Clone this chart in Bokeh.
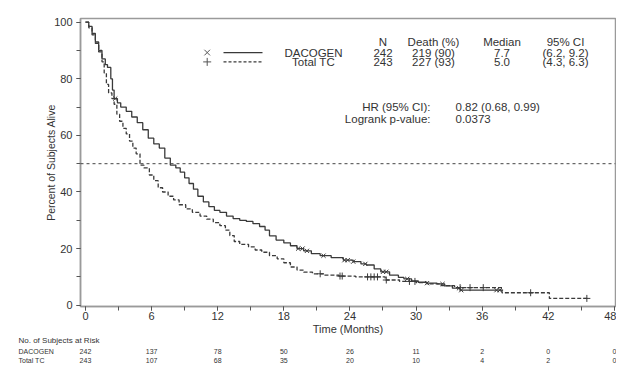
import numpy as np
from bokeh.plotting import figure
from bokeh.models import Range1d, Span, SingleIntervalTicker
from bokeh.layouts import column
from bokeh.embed import file_html
from bokeh.resources import INLINE
from bokeh.core.properties import value

FONT = "Liberation Sans"

# ---------------- data ----------------
dac_steps = [(0, 100), (0.3, 98.5), (0.6, 96), (0.9, 93), (1.2, 90), (1.5, 87), (1.8, 85),
             (2.0, 84), (2.3, 80), (2.45, 76), (2.6, 73), (2.9, 71.5), (3.2, 70), (3.7, 68.5),
             (4.2, 66.5), (4.7, 64.5), (5.2, 62), (5.7, 59), (6.2, 57), (6.7, 55.5), (7.2, 52),
             (7.7, 49.5), (8.2, 48.5), (8.6, 47), (9.0, 45), (9.4, 43), (9.8, 41), (10.2, 38.5),
             (10.7, 36.5), (11.2, 34.8), (11.7, 33.5), (12.2, 32.8), (12.8, 31.5), (13.4, 30.6),
             (14.0, 30.0), (14.6, 29.6), (15.2, 28.8), (15.8, 27.8), (16.3, 26.5), (16.7, 24.5),
             (17.3, 23), (18.0, 22), (18.6, 21), (19.2, 20), (19.8, 19.2), (20.5, 18.2),
             (21.3, 17.5), (22.3, 16.8), (23.4, 15.9), (24.3, 15.4), (25.0, 14.6), (25.5, 14.2),
             (26.2, 12.8), (26.8, 11.8), (27.6, 10.6), (28.4, 9.8), (28.9, 9.3), (29.6, 8.6),
             (30.2, 8.1), (31.0, 7.8), (31.9, 7.5), (32.6, 6.8), (33.3, 6.0), (34.0, 5.3),
             (37.9, 5.3)]
tc_steps = [(0, 100), (0.3, 98), (0.6, 95.5), (0.9, 92.5), (1.2, 89.5), (1.5, 86), (1.7, 82),
            (1.9, 78), (2.1, 75), (2.4, 73), (2.6, 71), (2.85, 67.5), (3.1, 65), (3.4, 62.5),
            (3.7, 60.5), (4.0, 58), (4.3, 55.5), (4.6, 53.5), (4.95, 49.5), (5.3, 48.5),
            (5.8, 46), (6.2, 44), (6.6, 41.5), (7.0, 40), (7.5, 38.5), (8.0, 37.2), (8.5, 35.5),
            (9.1, 34), (9.7, 32.8), (10.4, 31.5), (11.0, 30.4), (11.6, 29.2), (12.2, 28.1),
            (12.7, 26.5), (13.1, 24.6), (13.5, 22.5), (14.0, 21.5), (14.8, 20.6), (15.4, 19.5),
            (16.0, 18.7), (16.7, 17.5), (17.4, 16.4), (18.0, 15), (18.6, 13.5), (19.2, 12.4),
            (19.8, 11.7), (20.6, 11.1), (21.6, 10.6), (23.0, 10.3), (24.5, 10.0), (27.2, 8.9),
            (28.5, 8.4), (30.0, 8.0), (31.0, 7.5), (32.3, 6.9), (33.5, 6.2), (37.8, 4.4),
            (42.1, 2.4), (45.6, 2.4)]
dac_censored = [2.7, 19.3, 19.7, 20.1, 21.6, 23.5, 23.8, 24.3, 25.4, 27.0, 27.3, 29.2,
                31.0, 32.4, 33.9, 34.1, 37.3, 37.6]
tc_censored = [21.3, 23.1, 23.3, 25.6, 25.9, 26.2, 26.5, 27.3, 29.4, 29.9, 34.0, 34.9,
               36.1, 40.4, 45.5]

group_names = ["DACOGEN", "Total TC"]
stat_headers = ["N", "Death (%)", "Median", "95% CI"]
dac_stats = ["242", "219 (90)", "7.7", "(6.2, 9.2)"]
tc_stats = ["243", "227 (93)", "5.0", "(4.3, 6.3)"]
hr_labels = ["HR (95% CI):", "Logrank p-value:"]
hr_values = ["0.82 (0.68, 0.99)", "0.0373"]

risk_title = "No. of Subjects at Risk"
risk_months = [0, 6, 12, 18, 24, 30, 36, 42, 48]
risk_dac = [242, 137, 78, 50, 26, 11, 2, 0, 0]
risk_tc = [243, 107, 68, 35, 20, 10, 4, 2, 0]

# ---------------- layout ----------------
W = 616
MAIN_H = 337
TABLE_H = 27
FL, FT, FW, FH = 80, 18, 535, 290
X0, X1 = -0.45, 48.1
Y0, Y1 = -0.46, 101.3
PPM = FW / (X1 - X0)


def dx(px):
    return X0 + (px - FL) / PPM


def dy(py):
    return Y1 - (py - FT) * (Y1 - Y0) / FH


INK = "#333333"
LINE = "#3a3a3a"
FRAME = "#9a9a9a"

p = figure(width=W, height=MAIN_H, x_range=Range1d(X0, X1), y_range=Range1d(Y0, Y1),
           output_backend="svg", toolbar_location=None, frame_align=False,
           min_border_left=FL, min_border_right=W - FL - FW, min_border_top=FT,
           min_border_bottom=MAIN_H - FT - FH)
p.grid.visible = False
p.outline_line_color = FRAME
p.outline_line_width = 1.5
p.background_fill_color = "white"
p.border_fill_color = "white"

p.xaxis.ticker = SingleIntervalTicker(interval=6, num_minor_ticks=2)
p.yaxis.ticker = SingleIntervalTicker(interval=20, num_minor_ticks=2)
for ax in (p.xaxis[0], p.yaxis[0]):
    ax.axis_line_color = FRAME
    ax.axis_line_width = 1.5
    ax.major_tick_line_color = "#555555"
    ax.minor_tick_line_color = "#555555"
    ax.major_tick_in = 0
    ax.minor_tick_in = 0
    ax.major_tick_out = 4
    ax.minor_tick_out = 4
    ax.major_label_text_font = FONT
    ax.major_label_text_font_size = "11px"
    ax.major_label_text_color = INK
    ax.axis_label_text_font = FONT
    ax.axis_label_text_font_style = "normal"
    ax.axis_label_text_color = INK
p.xaxis.axis_label = "Time (Months)"
p.xaxis.axis_label_text_font_size = "11px"
p.xaxis.major_label_standoff = 1
p.xaxis.axis_label_standoff = 0
p.yaxis.axis_label = "Percent of Subjects Alive"
p.yaxis.axis_label_text_font_size = "10.5px"
p.yaxis.major_label_standoff = 4
p.yaxis.axis_label_standoff = -6

p.add_layout(Span(location=50, dimension="width", line_color="#444444",
                  line_dash="3 3", line_width=1))

dac_t = np.array([a for a, b in dac_steps])
dac_s = np.array([b for a, b in dac_steps])
tc_t = np.array([a for a, b in tc_steps])
tc_s = np.array([b for a, b in tc_steps])

p.step(dac_t, dac_s, mode="after", line_color=LINE, line_width=1.3)
p.step(tc_t, tc_s, mode="after", line_color=LINE, line_width=1.3, line_dash="4 2")


def surv_at(t, s, times):
    idx = np.searchsorted(t, np.array(times), side="right") - 1
    return s[idx]


p.scatter(dac_censored, surv_at(dac_t, dac_s, dac_censored), marker="x", size=6,
          line_color=LINE, line_width=1)
p.scatter(tc_censored, surv_at(tc_t, tc_s, tc_censored), marker="cross", size=7,
          line_color=LINE, line_width=1)

# legend block
col_px = [382.5, 433, 501.5, 565]
hdr_y, r1_y, r2_y = 41.7, 52.3, 61.7
txt = dict(text_font=value(FONT), text_font_size="11.5px", text_color=INK,
           text_baseline="middle")
p.text([dx(c) for c in col_px], [dy(hdr_y)] * 4, stat_headers, text_align="center", **txt)
p.text([dx(c) for c in col_px], [dy(r1_y)] * 4, dac_stats, text_align="center", **txt)
p.text([dx(c) for c in col_px], [dy(r2_y)] * 4, tc_stats, text_align="center", **txt)
p.text([dx(313)] * 2, [dy(r1_y), dy(r2_y)], group_names, text_align="center", **txt)
p.scatter([dx(206.7)], [dy(r1_y)], marker="x", size=8, line_color="#555555", line_width=1)
p.scatter([dx(206.7)], [dy(r2_y)], marker="cross", size=8, line_color="#555555",
          line_width=1)
p.segment(x0=[dx(223)], y0=[dy(r1_y)], x1=[dx(262)], y1=[dy(r1_y)], line_color=LINE,
          line_width=1.2)
p.segment(x0=[dx(223)], y0=[dy(r2_y)], x1=[dx(262)], y1=[dy(r2_y)], line_color=LINE,
          line_width=1.2, line_dash="3 2")

hr_rows = [107, 119]
p.text([dx(430)] * 2, [dy(v) for v in hr_rows], hr_labels, text_align="right", **txt)
p.text([dx(455)] * 2, [dy(v) for v in hr_rows], hr_values, text_align="left", **txt)

# risk table (its own figure whose frame spans the whole width)
TS = X0 - FL / PPM
TE = TS + W / PPM
TOP = MAIN_H
t = figure(width=W, height=TABLE_H, x_range=Range1d(TS, TE), y_range=Range1d(TABLE_H, 0),
           output_backend="svg", toolbar_location=None, frame_align=False,
           min_border=0, min_border_left=0, min_border_right=0,
           min_border_top=0, min_border_bottom=0,
           x_axis_location=None, y_axis_location=None)
t.grid.visible = False
t.outline_line_color = None
t.background_fill_color = "white"
t.border_fill_color = "white"
lab_x = TS + 18 / PPM
rows_y = [340 - TOP, 350.5 - TOP, 360 - TOP]
t.text([lab_x], [rows_y[0]], [risk_title], text_font=value(FONT), text_font_size="8px",
       text_color=INK, text_baseline="middle", text_align="left")
t.text([lab_x] * 2, rows_y[1:], group_names, text_font=value(FONT), text_font_size="7px",
       text_color=INK, text_baseline="middle", text_align="left")
t.text(risk_months, [rows_y[1]] * len(risk_months), [str(v) for v in risk_dac],
       text_font=value(FONT), text_font_size="7px", text_color=INK,
       text_baseline="middle", text_align="center")
t.text(risk_months, [rows_y[2]] * len(risk_months), [str(v) for v in risk_tc],
       text_font=value(FONT), text_font_size="7px", text_color=INK,
       text_baseline="middle", text_align="center")

layout = column(p, t)
open("out.html", "w").write(file_html(layout, INLINE))
